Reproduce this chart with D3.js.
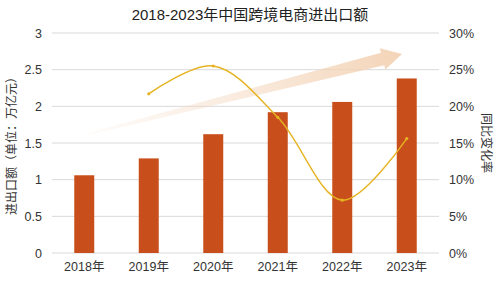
<!DOCTYPE html>
<html>
<head>
<meta charset="utf-8">
<script src="https://cdn.jsdelivr.net/npm/d3@7"></script>
<style>
  body { margin: 0; background: #fff; }
  text { font-family: "Liberation Sans", "Noto Sans CJK SC", sans-serif; fill: #333; }
</style>
</head>
<body>
<svg></svg>
<script>
const width = 499;
const height = 281;

const years = ['2018年', '2019年', '2020年', '2021年', '2022年', '2023年'];
const amount = [1.06, 1.29, 1.62, 1.92, 2.06, 2.38];
const growth = [null, 21.7, 25.5, 18.5, 7.2, 15.6];
const leftTicks = [0, 0.5, 1, 1.5, 2, 2.5, 3];
const rightTicks = [0, 5, 10, 15, 20, 25, 30];

const margin = {top: 33, right: 60, bottom: 28, left: 52};

const svg = d3.select('svg')
    .attr('width', width).attr('height', height);

const x = d3.scaleBand()
    .domain(years)
    .range([margin.left, width - margin.right])
    .paddingInner(0.69)
    .paddingOuter(0.345);
const yL = d3.scaleLinear().domain([0, 3]).range([height - margin.bottom, margin.top]);
const yR = d3.scaleLinear().domain([0, 30]).range([height - margin.bottom, margin.top]);

// title
svg.append('text')
    .attr('x', 250).attr('y', 20)
    .attr('text-anchor', 'middle')
    .style('font-size', '15px')
    .style('fill', '#222')
    .text('2018-2023年中国跨境电商进出口额');

// grid
svg.append('g').selectAll('line')
    .data(leftTicks)
    .enter().append('line')
    .attr('x1', margin.left).attr('x2', width - margin.right)
    .attr('y1', d => yL(d)).attr('y2', d => yL(d))
    .style('stroke', '#d9d9d9')
    .style('stroke-width', '1px');

// left axis
const leftAxis = svg.append('g')
    .attr('transform', `translate(${margin.left},0)`)
    .call(d3.axisLeft(yL).tickValues(leftTicks).tickSize(0).tickPadding(10).tickFormat(d3.format('')));
leftAxis.select('.domain').remove();
leftAxis.selectAll('text').style('font-size', '12.5px').style('fill', '#333');

// right axis
const rightAxis = svg.append('g')
    .attr('transform', `translate(${width - margin.right},0)`)
    .call(d3.axisRight(yR).tickValues(rightTicks).tickSize(0).tickPadding(10).tickFormat(d => d + '%'));
rightAxis.select('.domain').remove();
rightAxis.selectAll('text').style('font-size', '12.5px').style('fill', '#333');

// bottom labels
const bottomAxis = svg.append('g')
    .attr('transform', `translate(0,${height - margin.bottom})`)
    .call(d3.axisBottom(x).tickSize(0).tickPadding(9));
bottomAxis.select('.domain').remove();
bottomAxis.selectAll('text').style('font-size', '12.5px').style('fill', '#333');

// axis titles
svg.append('text')
    .attr('transform', `translate(16,${(margin.top + height - margin.bottom) / 2}) rotate(-90)`)
    .attr('text-anchor', 'middle')
    .style('font-size', '12px')
    .text('进出口额（单位：万亿元）');
svg.append('text')
    .attr('transform', `translate(482,${(margin.top + height - margin.bottom) / 2}) rotate(90)`)
    .attr('text-anchor', 'middle')
    .style('font-size', '12px')
    .text('同比变化率');

// bars
svg.append('g').selectAll('rect')
    .data(amount)
    .enter().append('rect')
    .attr('x', (d, i) => x(years[i]))
    .attr('y', d => yL(d))
    .attr('width', x.bandwidth())
    .attr('height', d => yL(0) - yL(d))
    .style('fill', '#C84F1B');

// trend arrow
const defs = svg.append('defs');
const grad = defs.append('linearGradient').attr('id', 'arrowGrad');
grad.append('stop').attr('offset', '0%').attr('stop-color', '#f5dcc6').attr('stop-opacity', 0.1);
grad.append('stop').attr('offset', '100%').attr('stop-color', '#f3d2b4').attr('stop-opacity', 0.95);

const arrowStart = [88, 134];
const arrowEnd = [402, 54];
const len = Math.hypot(arrowEnd[0] - arrowStart[0], arrowEnd[1] - arrowStart[1]);
const ang = Math.atan2(arrowEnd[1] - arrowStart[1], arrowEnd[0] - arrowStart[0]) * 180 / Math.PI;
const headLen = 20;
svg.append('path')
    .attr('transform', `translate(${arrowStart}) rotate(${ang})`)
    .attr('d', `M0,-1 L${len - headLen},-6.5 L${len - headLen},-11 L${len},0 L${len - headLen},11 L${len - headLen},6.5 L0,1 Z`)
    .style('fill', 'url(#arrowGrad)');

// growth line
const pts = growth.map((d, i) => [x(years[i]) + x.bandwidth() / 2, d]).filter(p => p[1] !== null);
const line = d3.line()
    .x(d => d[0])
    .y(d => yR(d[1]))
    .curve(d3.curveCatmullRom.alpha(0.5));
svg.append('path')
    .datum(pts)
    .attr('d', line)
    .style('fill', 'none')
    .style('stroke', '#E6B422')
    .style('stroke-width', '1.4px');
svg.append('g').selectAll('circle')
    .data(pts)
    .enter().append('circle')
    .attr('cx', d => d[0])
    .attr('cy', d => yR(d[1]))
    .attr('r', 1.6)
    .style('fill', '#E6B422');
</script>
</body>
</html>
